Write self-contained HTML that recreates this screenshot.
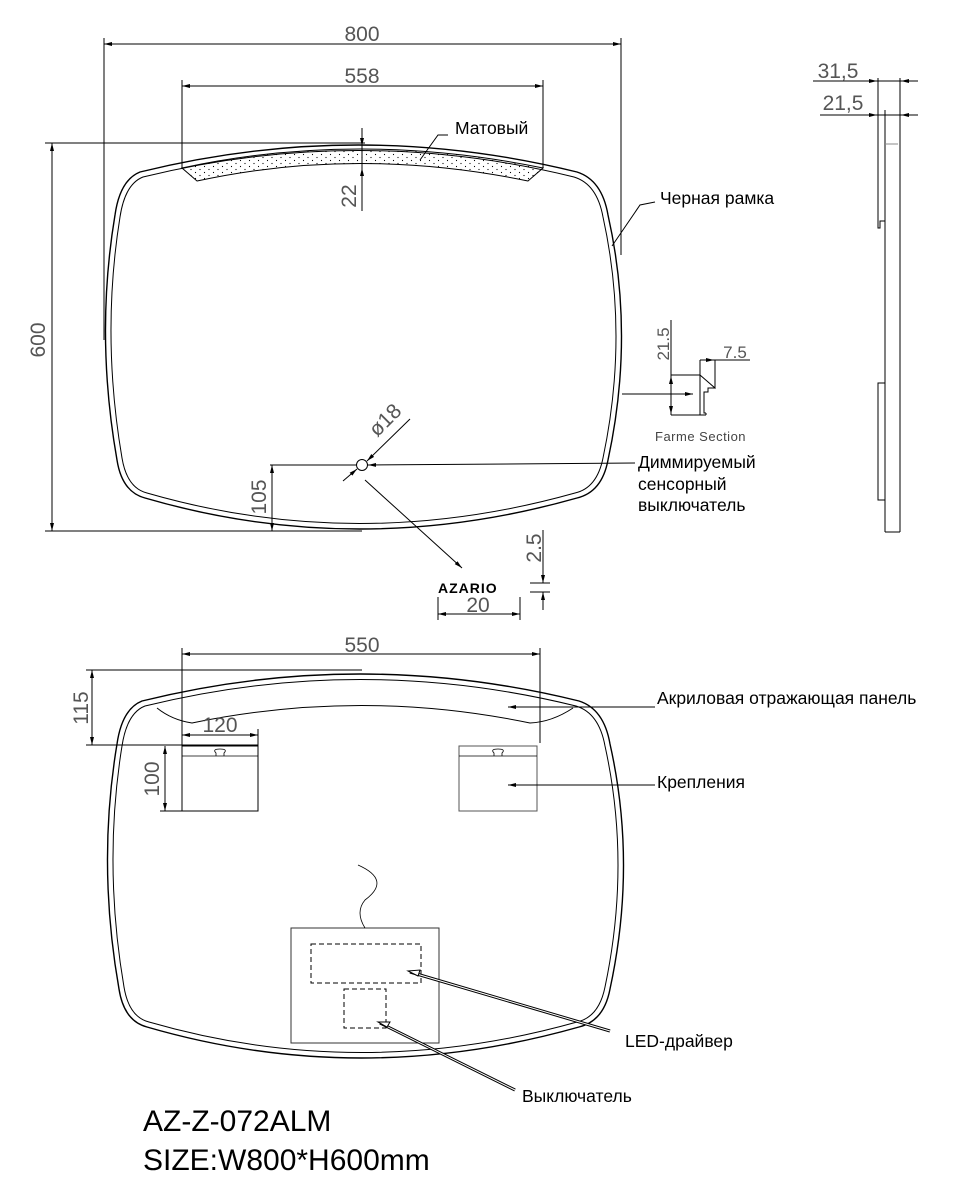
<!DOCTYPE html>
<html><head><meta charset="utf-8"><style>
html,body{margin:0;padding:0;background:#fff;}
svg{display:block;}
text{font-family:"Liberation Sans",sans-serif;}
.d{font-family:"DejaVu Sans","Liberation Sans",sans-serif;font-weight:200;fill:#555;}
</style></head><body>
<svg width="972" height="1200" viewBox="0 0 972 1200" xmlns="http://www.w3.org/2000/svg">
<defs>
<marker id="a" markerWidth="8" markerHeight="6" refX="8" refY="3" orient="auto-start-reverse" markerUnits="userSpaceOnUse"><path d="M0,1 L8,3 L0,5 Z" fill="#000"/></marker>
<pattern id="dots" width="9" height="6" patternUnits="userSpaceOnUse"><circle cx="2" cy="1.5" r="0.6" fill="#000"/><circle cx="6.5" cy="4.5" r="0.6" fill="#000"/></pattern>
<g id="mirror" fill="none" stroke="#000">
<path stroke-width="1.4" d="M140,172 Q358,118 577,172 Q602,180 608,215 Q635,335 608,460 Q602,492 577,498 Q358,560 145,498 Q122,492 117,460 Q95,335 115,215 Q120,180 140,172 Z"/>
<path stroke-width="1" d="M143,177 Q358,124 574,177 Q597,184 603,217 Q629,335 603,458 Q597,488 575,493 Q358,554 147,493 Q127,488 122,458 Q101,335 120,217 Q125,184 143,177 Z"/>
</g>
</defs>
<g stroke="#000" fill="none" stroke-width="1">
<use href="#mirror"/>
<path d="M182,168 Q358,130 543,168 L528,181 Q358,146 197,181 Z" fill="url(#dots)" stroke-width="1"/>
<line x1="104" y1="38" x2="104" y2="340"/><line x1="621" y1="38" x2="621" y2="255"/>
<line x1="104" y1="44" x2="621" y2="44" marker-start="url(#a)" marker-end="url(#a)"/>
<line x1="182" y1="80" x2="182" y2="168"/><line x1="543" y1="80" x2="543" y2="168"/>
<line x1="182" y1="86" x2="543" y2="86" marker-start="url(#a)" marker-end="url(#a)"/>
<line x1="45" y1="143" x2="365" y2="143"/><line x1="45" y1="531" x2="362" y2="531"/>
<line x1="52" y1="143" x2="52" y2="531" marker-start="url(#a)" marker-end="url(#a)"/>
<line x1="362" y1="128" x2="362" y2="211"/>
<line x1="362" y1="138" x2="362" y2="146" marker-end="url(#a)"/>
<line x1="362" y1="176" x2="362" y2="168" marker-end="url(#a)"/>
<polyline points="448,135 438,135 420,160" />
<polyline points="655,202 640,205 612,246"/>
<line x1="671" y1="320" x2="671" y2="415"/>
<line x1="671" y1="384" x2="671" y2="376" marker-end="url(#a)"/>
<line x1="671" y1="406" x2="671" y2="414" marker-end="url(#a)"/>
<line x1="671" y1="375" x2="700" y2="375"/>
<line x1="671" y1="415" x2="706" y2="415"/>
<path d="M700,360 L700,415 M700,360 L715,360 L715,388 L700,375 M715,388 L708,388 L708,392 L704,392 L704,413 L706,413 M706,415 L706,413"/>
<line x1="715" y1="360" x2="750" y2="360"/>
<line x1="708" y1="360" x2="714" y2="360" marker-end="url(#a)"/>
<line x1="622" y1="394" x2="693" y2="394" marker-end="url(#a)"/>
<circle cx="362" cy="465" r="5.5"/>
<line x1="270" y1="465" x2="356" y2="465"/>
<line x1="635" y1="463" x2="368" y2="465" marker-end="url(#a)"/>
<line x1="343" y1="481" x2="357" y2="469" marker-end="url(#a)"/>
<line x1="410" y1="419" x2="367" y2="461" marker-end="url(#a)"/>
<line x1="365" y1="480" x2="462" y2="568" marker-end="url(#a)"/>
<line x1="272" y1="465" x2="272" y2="531" marker-start="url(#a)" marker-end="url(#a)"/>
<line x1="438" y1="597" x2="438" y2="620"/><line x1="520" y1="597" x2="520" y2="620"/>
<line x1="438" y1="614" x2="520" y2="614" marker-start="url(#a)" marker-end="url(#a)"/>
<line x1="530" y1="583" x2="550" y2="583"/><line x1="530" y1="592" x2="550" y2="592"/>
<line x1="543" y1="530" x2="543" y2="583" marker-end="url(#a)"/>
<line x1="543" y1="610" x2="543" y2="592" marker-end="url(#a)"/>
<line x1="813" y1="81" x2="918" y2="81"/>
<line x1="820" y1="115" x2="918" y2="115"/>
<line x1="870" y1="81" x2="877" y2="81" marker-end="url(#a)"/>
<line x1="910" y1="81" x2="901" y2="81" marker-end="url(#a)"/>
<line x1="870" y1="115" x2="877" y2="115" marker-end="url(#a)"/>
<line x1="910" y1="115" x2="901" y2="115" marker-end="url(#a)"/>
<line x1="878" y1="78" x2="878" y2="218"/>
<line x1="900" y1="78" x2="900" y2="532"/>
<line x1="885" y1="110" x2="885" y2="532"/>
<line x1="885" y1="532" x2="900" y2="532"/>
<line x1="885" y1="144" x2="898" y2="144" stroke="#888"/>
<path d="M878,218 L878,228 L880,228 L880,221 L885,221"/>
<rect x="878" y="383" width="7" height="117"/>
<g transform="translate(2,529)"><use href="#mirror"/></g>
<path d="M157,708 Q172,720 192,723 Q362,688 530,723 Q552,722 573,708"/>
<line x1="182" y1="648" x2="182" y2="745"/><line x1="540" y1="648" x2="540" y2="743"/>
<line x1="182" y1="654" x2="540" y2="654" marker-start="url(#a)" marker-end="url(#a)"/>
<line x1="86" y1="670" x2="362" y2="670"/><line x1="86" y1="745" x2="258" y2="745"/>
<line x1="92" y1="670" x2="92" y2="745" marker-start="url(#a)" marker-end="url(#a)"/>
<line x1="182" y1="735" x2="258" y2="735" marker-start="url(#a)" marker-end="url(#a)"/>
<line x1="258" y1="729" x2="258" y2="746"/>
<rect x="182" y="746" width="76" height="65"/>
<line x1="182" y1="756" x2="258" y2="756" stroke-width="0.8"/>
<path d="M216,756 L216,753 Q212,749 220,749 Q228,749 224,753 L224,756" stroke-width="0.8"/>
<rect x="459" y="746" width="78" height="65" stroke="#555"/>
<line x1="459" y1="756" x2="537" y2="756" stroke-width="0.8"/>
<path d="M494,756 L494,753 Q490,749 498,749 Q506,749 502,753 L502,756" stroke-width="0.8"/>
<line x1="160" y1="811" x2="182" y2="811"/>
<line x1="165" y1="746" x2="165" y2="811" marker-start="url(#a)" marker-end="url(#a)"/>
<line x1="655" y1="707" x2="508" y2="707" marker-end="url(#a)"/>
<line x1="655" y1="785" x2="508" y2="785" marker-end="url(#a)"/>
<rect x="291" y="928" width="148" height="115" stroke="#333"/>
<rect x="311" y="944" width="110" height="39" stroke-dasharray="5,3"/>
<rect x="344" y="989" width="42" height="39" stroke-dasharray="5,3"/>
<path d="M365,928 Q355,912 365,900 Q392,880 358,865" stroke-width="0.8"/>
<line x1="610" y1="1031" x2="410" y2="972" stroke-width="3"/>
<line x1="610" y1="1031" x2="410" y2="972" stroke="#fff" stroke-width="1"/>
<path d="M408,971 L420,970 L418,976 Z" fill="#fff"/>
<line x1="515" y1="1090" x2="380" y2="1023" stroke-width="3"/>
<line x1="515" y1="1090" x2="380" y2="1023" stroke="#fff" stroke-width="1"/>
<path d="M378,1022 L390,1022 L387,1027 Z" fill="#fff"/>
</g>
<g class="d" font-size="21">
<text x="362" y="41" text-anchor="middle">800</text>
<text x="362" y="83" text-anchor="middle">558</text>
<text x="45" y="340" text-anchor="middle" transform="rotate(-90 45 340)">600</text>
<text x="356" y="196" text-anchor="middle" transform="rotate(-90 356 196)">22</text>
<text x="266" y="497" text-anchor="middle" transform="rotate(-90 266 497)">105</text>
<text x="390" y="425" text-anchor="middle" transform="rotate(-45 390 425)">ø18</text>
<text x="478" y="612" text-anchor="middle">20</text>
<text x="541" y="548" text-anchor="middle" transform="rotate(-90 541 548)">2.5</text>
<text x="362" y="652" text-anchor="middle">550</text>
<text x="88" y="708" text-anchor="middle" transform="rotate(-90 88 708)">115</text>
<text x="220" y="732" text-anchor="middle">120</text>
<text x="159" y="779" text-anchor="middle" transform="rotate(-90 159 779)">100</text>
<text x="838" y="78" text-anchor="middle">31,5</text>
<text x="843" y="110" text-anchor="middle">21,5</text>
</g>
<g class="d" font-size="17">
<text x="669" y="344" text-anchor="middle" transform="rotate(-90 669 344)">21.5</text>
<text x="735" y="358" text-anchor="middle">7.5</text>
</g>
<text x="655" y="441" font-family="DejaVu Sans Mono,Liberation Mono,monospace" font-size="13" fill="#444" letter-spacing="0.5">Farme Section</text>
<text x="438" y="593" font-size="14" font-weight="bold" letter-spacing="1">AZARIO</text>
<g font-size="17.5" fill="#000">
<text x="455" y="134">Матовый</text>
<text x="660" y="204">Черная рамка</text>
<text x="638" y="468">Диммируемый</text>
<text x="638" y="490">сенсорный</text>
<text x="638" y="511">выключатель</text>
<text x="657" y="704">Акриловая отражающая панель</text>
<text x="657" y="788">Крепления</text>
<text x="625" y="1047">LED-драйвер</text>
<text x="522" y="1102">Выключатель</text>
</g>
<text x="143" y="1131" font-size="30">AZ-Z-072ALM</text>
<text x="143" y="1170" font-size="30">SIZE:W800*H600mm</text>
</svg>
</body></html>
